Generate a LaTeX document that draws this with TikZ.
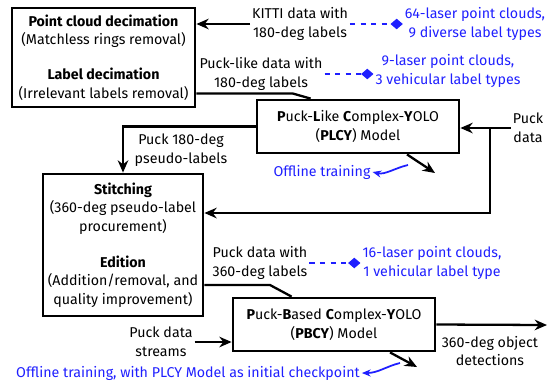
\documentclass[tikz,border=0pt]{standalone}
\usepackage{fontspec}
\setmainfont{Fira Sans}
\usepackage{tikz}
\usetikzlibrary{arrows.meta, positioning, calc}
\definecolor{noteblue}{HTML}{1F1FFF}

\begin{document}
\begin{tikzpicture}[x=0.02cm, y=-0.02cm, font=\fontsize{8.1}{10.6}\selectfont,
  box/.style={draw, line width=1.6pt, align=center, inner sep=0pt},
  lbl/.style={align=center, inner sep=1pt},
  note/.style={lbl, text=noteblue},
  flow/.style={line width=1.3pt, -{Stealth[length=7pt, width=6pt]}},
  link/.style={line width=1.3pt},
  hint/.style={noteblue, dashed, line width=0.7pt, -{Diamond[length=7pt, width=6pt]}},
  curl/.style={noteblue, line width=1pt, -{Stealth[length=5pt, width=4pt]}}]
  \useasboundingbox (0,0) rectangle (553,383);

  % processing boxes
  \node[box, minimum width=3.66cm, minimum height=1.98cm] (dec) at (103.5,57.5)
    {\textbf{Point cloud decimation}\\(Matchless rings removal)\\[0.32cm]
     \textbf{Label decimation}\\(Irrelevant labels removal)};
  \node[box, minimum width=4.04cm, minimum height=1.06cm] (plcy) at (358,126.5)
    {\textbf{P}uck-\textbf{L}ike \textbf{C}omplex-\textbf{Y}OLO\\(\textbf{PLCY}) Model};
  \node[box, minimum width=3.2cm, minimum height=2.84cm] (stitch) at (123,245)
    {\textbf{Stitching}\\(360-deg pseudo-label\\procurement)\\[0.34cm]
     \textbf{Edition}\\(Addition/removal, and\\quality improvement)};
  \node[box, minimum width=4.04cm, minimum height=1.06cm] (pbcy) at (334,324.5)
    {\textbf{P}uck-\textbf{B}ased \textbf{C}omplex-\textbf{Y}OLO\\(\textbf{PBCY}) Model};

  % data labels
  \node[lbl] (kitti) at (300,24) {KITTI data with\\180-deg labels};
  \node[note] (kittinote) at (475,24) {64-laser point clouds,\\9 diverse label types};
  \node[lbl] (puckl) at (261,74) {Puck-like data with\\180-deg labels};
  \node[note] (pucklnote) at (448,71) {9-laser point clouds,\\3 vehicular label types};
  \node[lbl] (puck) at (528,128) {Puck\\data};
  \node[lbl] (pseudo) at (181,150) {Puck 180-deg\\pseudo-labels};
  \node[note] (off1) at (322,172) {Offline training};
  \node[lbl] (puck360) at (260,263) {Puck data with\\360-deg labels};
  \node[note] (puck360note) at (432,263) {16-laser point clouds,\\1 vehicular label type};
  \node[lbl] (streams) at (161,342) {Puck data\\streams};
  \node[lbl] (detect) at (490,351) {360-deg object\\detections};
  \node[note] (off2) at (188,373) {Offline training, with PLCY Model as initial checkpoint};

  \coordinate (split) at (490,128);
  \coordinate (train1) at (435,173);
  \coordinate (train2) at (417,367);
  \coordinate (out) at (547,325);

  % connectors
  \draw[flow] (kitti.west) -- (kitti.west -| dec.east);
  \draw[hint] (kitti.east) -- (kittinote.west);
  \draw[hint] (puckl.east) -- (puckl.east -| pucklnote.west);
  \draw[link] ([yshift=0.3cm]dec.south east) -- +(96,0) -- ([xshift=1.1cm]plcy.north west);
  \draw[flow] (puck.west) -- (puck.west -| plcy.east);
  \draw[flow] (split) |- ([yshift=0.64cm]stitch.east);
  \draw[flow] (plcy.west) -| (stitch.north);
  \draw[flow] ([xshift=0.98cm]plcy.south) -- (train1);
  \draw[curl] (408,165) .. controls (395,168) and (385,175) .. (off1.east);
  \draw[link] ([yshift=-0.8cm]stitch.east) -- (270,285) -- ([xshift=1.2cm]pbcy.north west);
  \draw[hint] (puck360.east) -- (puck360.east -| puck360note.west);
  \draw[flow] (streams.east) -- (streams.east -| pbcy.west);
  \draw[flow] (pbcy.east) -- (out);
  \draw[flow] ([xshift=1.12cm]pbcy.south) -- (train2);
  \draw[curl] (400,363) .. controls (387,366) and (378,373) .. (off2.east);
\end{tikzpicture}
\end{document}
